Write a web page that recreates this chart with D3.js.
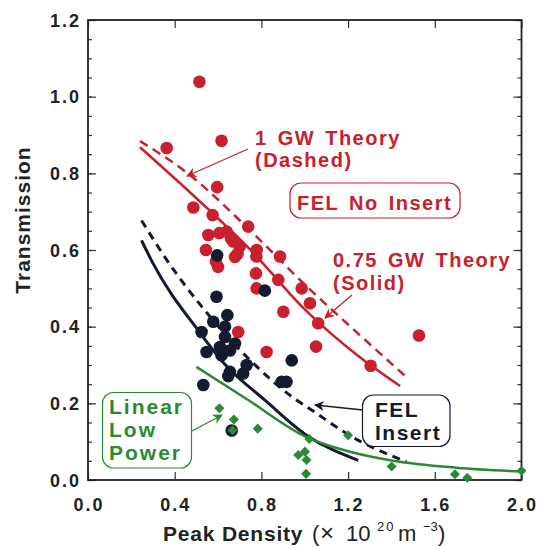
<!DOCTYPE html>
<html><head><meta charset="utf-8">
<script src="https://cdn.jsdelivr.net/npm/d3@7"></script>
<style>
html,body{margin:0;padding:0;background:#fff;}
text{font-family:"Liberation Sans",Arial,Helvetica,sans-serif;}
</style></head>
<body>
<svg id="c" width="541" height="548"></svg>
<script>
// ---------- data ----------
const xTicks = [0.0, 0.4, 0.8, 1.2, 1.6, 2.0];
const yTicks = [0.0, 0.2, 0.4, 0.6, 0.8, 1.0, 1.2];

const noInsertPts = [
  [0.514,1.039],[0.363,0.866],[0.616,0.885],[0.596,0.764],[0.486,0.711],
  [0.575,0.691],[0.555,0.639],[0.606,0.644],[0.640,0.648],[0.544,0.600],
  [0.739,0.661],[0.670,0.622],[0.700,0.609],[0.778,0.600],[0.886,0.583],
  [0.600,0.556],[0.678,0.582],[0.660,0.630],[0.690,0.590],[0.777,0.583],
  [0.775,0.539],[0.878,0.522],[0.778,0.500],[0.986,0.500],[0.901,0.439],
  [1.024,0.461],[1.062,0.409],[0.693,0.386],[0.824,0.334],[1.052,0.348],
  [1.304,0.298],[1.527,0.377],[0.590,0.570]
];
const insertPts = [
  [0.596,0.586],[0.593,0.478],[0.816,0.494],[0.643,0.430],[0.578,0.413],
  [0.632,0.400],[0.524,0.386],[0.632,0.373],[0.609,0.347],[0.678,0.356],
  [0.547,0.334],[0.616,0.325],[0.655,0.338],[0.732,0.300],[0.655,0.282],
  [0.647,0.271],[0.716,0.278],[0.532,0.248],[0.940,0.312],[0.893,0.256],
  [0.916,0.256],[0.663,0.129]
];
const lowPowerPts = [
  [0.606,0.187],[0.673,0.158],[0.667,0.130],[0.783,0.134],[1.021,0.107],
  [1.200,0.117],[0.970,0.065],[1.001,0.074],[1.008,0.052],[1.006,0.016],
  [1.401,0.035],[1.693,0.015],[1.750,0.006],[2.000,0.024]
];
const theory1GW = [[0.24,0.884],[0.46,0.800],[0.75,0.650],[1.00,0.510],[1.25,0.380],[1.46,0.273]];
const theory075GW = [[0.24,0.868],[0.50,0.735],[0.75,0.600],[1.00,0.445],[1.25,0.322],[1.44,0.245]];
const insertSolid = [[0.247,0.625],[0.30,0.565],[0.514,0.386],[0.622,0.308],[0.823,0.205],[1.008,0.117],[1.247,0.051]];
const insertDashed = [[0.247,0.677],[0.36,0.577],[0.55,0.435],[0.78,0.295],[0.946,0.215],[1.039,0.180],[1.193,0.121],[1.47,0.047]];
const lowPowerCurve = [[0.50,0.295],[0.73,0.212],[1.008,0.112],[1.20,0.075],[1.40,0.051],[1.70,0.032],[2.00,0.022]];

// ---------- setup ----------
const RED = "#c8202c", NAVY = "#141a30", GREEN = "#2a8a32";
const svg = d3.select("#c");
const L = 88, R = 521.5, T = 20, B = 480;
const x = d3.scaleLinear().domain([0, 2]).range([L, R]);
const y = d3.scaleLinear().domain([0, 1.2]).range([B, T]);

const defs = svg.append("defs");
function marker(id, color) {
  defs.append("marker").attr("id", id).attr("viewBox", "0 0 10 10")
    .attr("refX", 9).attr("refY", 5).attr("markerWidth", 10).attr("markerHeight", 10)
    .attr("markerUnits", "userSpaceOnUse").attr("orient", "auto")
    .append("path").attr("d", "M0,0 L10,5 L0,10 L3,5 Z").attr("fill", color);
}
marker("mr", RED); marker("mg", GREEN); marker("mn", NAVY);

// ---------- axes ----------
const yMinor = d3.range(0, 1.2001, 0.05);
const axL = d3.axisLeft(y).tickValues(yMinor).tickSize(-4).tickFormat("");
const axR = d3.axisRight(y).tickValues(yMinor).tickSize(-4).tickFormat("");
const axLM = d3.axisLeft(y).tickValues(yTicks).tickSize(-8).tickFormat("");
const axRM = d3.axisRight(y).tickValues(yTicks).tickSize(-8).tickFormat("");
const axB = d3.axisBottom(x).tickValues(xTicks).tickSize(-8).tickFormat("");
const axT = d3.axisTop(x).tickValues(xTicks).tickSize(-8).tickFormat("");
[[axL, `translate(${L},0)`], [axLM, `translate(${L},0)`], [axR, `translate(${R},0)`], [axRM, `translate(${R},0)`],
 [axB, `translate(0,${B})`], [axT, `translate(0,${T})`]].forEach(([a, tr]) => {
  const g = svg.append("g").attr("transform", tr).call(a);
  g.select(".domain").remove();
  g.selectAll("line").attr("stroke", "#333").attr("stroke-width", 1.2);
});
svg.append("rect").attr("x", L).attr("y", T).attr("width", R - L).attr("height", B - T)
  .attr("fill", "none").attr("stroke", "#222").attr("stroke-width", 1.8);

// tick labels
svg.append("g").selectAll("text").data(yTicks).join("text")
  .attr("x", 81).attr("y", d => y(d) + 6.5).attr("text-anchor", "end")
  .attr("font-size", 18).attr("font-weight", "bold").attr("letter-spacing", 2).attr("fill", "#222")
  .text(d => d.toFixed(1));
svg.append("g").selectAll("text").data(xTicks).join("text")
  .attr("x", d => x(d) + 1).attr("y", 511).attr("text-anchor", "middle")
  .attr("font-size", 18).attr("font-weight", "bold").attr("letter-spacing", 2).attr("fill", "#222")
  .text(d => d.toFixed(1));

// axis titles
svg.append("text").attr("transform", "translate(30,220) rotate(-90)").attr("text-anchor", "middle")
  .attr("font-size", 21).attr("font-weight", "bold").attr("letter-spacing", 1).attr("fill", "#222")
  .text("Transmission");
const xt = svg.append("text").attr("y", 541).attr("font-size", 21).attr("fill", "#222");
xt.append("tspan").attr("x", 163).attr("font-weight", "bold").attr("letter-spacing", 0.8).text("Peak Density");
xt.append("tspan").attr("x", 312).attr("font-size", 22).text("(");
xt.append("tspan").attr("x", 320).attr("font-size", 24).text("\u00d7");
xt.append("tspan").attr("x", 346).attr("font-size", 22).text("10");
xt.append("tspan").attr("x", 377).attr("font-size", 13).attr("dy", -10).attr("letter-spacing", 2).text("20");
xt.append("tspan").attr("x", 398).attr("font-size", 22).attr("dy", 10).text("m");
xt.append("tspan").attr("x", 423).attr("font-size", 13).attr("dy", -10).text("\u22123");
xt.append("tspan").attr("x", 438).attr("font-size", 22).attr("dy", 10).text(")");

// ---------- curves ----------
const line = d3.line().x(d => x(d[0])).y(d => y(d[1])).curve(d3.curveMonotoneX);
function drawCurve(data, color, w, dash) {
  svg.append("path").datum(data).attr("d", line).attr("fill", "none")
    .attr("stroke", color).attr("stroke-width", w).attr("stroke-dasharray", dash || null);
}
drawCurve(theory1GW, RED, 2.5, "9,6");
drawCurve(theory075GW, RED, 2.5);
drawCurve(insertDashed, NAVY, 3, "8,6");
drawCurve(insertSolid, NAVY, 3);
drawCurve(lowPowerCurve, GREEN, 2.5);

// ---------- points ----------
svg.append("g").selectAll("circle").data(noInsertPts).join("circle")
  .attr("cx", d => x(d[0])).attr("cy", d => y(d[1])).attr("r", 6.3).attr("fill", RED);
svg.append("g").selectAll("circle").data(insertPts).join("circle")
  .attr("cx", d => x(d[0])).attr("cy", d => y(d[1])).attr("r", 6.3).attr("fill", NAVY);
const sym = d3.symbol().type(d3.symbolDiamond2).size(64);
svg.append("g").selectAll("path").data(lowPowerPts).join("path")
  .attr("transform", d => `translate(${x(d[0])},${y(d[1])})`).attr("d", sym).attr("fill", GREEN);

// ---------- annotations ----------
function label(lines, x0, y0, color, size, lh, ls) {
  const t = svg.append("text").attr("font-size", size).attr("font-weight", "bold")
    .attr("fill", color).attr("letter-spacing", ls).attr("word-spacing", 3);
  lines.forEach((s, i) => t.append("tspan").attr("x", x0).attr("y", y0 + i * lh).text(s));
}
function box(x0, y0, w, h, color) {
  svg.append("rect").attr("x", x0).attr("y", y0).attr("width", w).attr("height", h)
    .attr("rx", 11).attr("fill", "#fff").attr("stroke", color).attr("stroke-width", 1.2);
}
function arrow(x1, y1, x2, y2, color, id) {
  svg.append("line").attr("x1", x1).attr("y1", y1).attr("x2", x2).attr("y2", y2)
    .attr("stroke", color).attr("stroke-width", 1.3).attr("marker-end", `url(#${id})`);
}
label(["1 GW Theory", "(Dashed)"], 255, 145, RED, 20, 22, 1.5);
arrow(248, 149, 187, 176, RED, "mr");

box(290, 183, 170, 35, RED);
label(["FEL No Insert"], 297, 210, RED, 20, 22, 1.5);

label(["0.75 GW Theory", "(Solid)"], 333, 267, RED, 20, 23, 1.5);
arrow(352, 295, 325, 318, RED, "mr");

box(102.5, 392.5, 89, 75.5, GREEN);
label(["Linear", "Low", "Power"], 109, 414, GREEN, 21, 23, 2);
arrow(192, 431, 222, 415, GREEN, "mg");

box(362.5, 395, 87.5, 51.5, NAVY);
label(["FEL", "Insert"], 375, 417, NAVY, 21, 23, 1.5);
arrow(363, 410, 315, 405, NAVY, "mn");
</script>
</body></html>
